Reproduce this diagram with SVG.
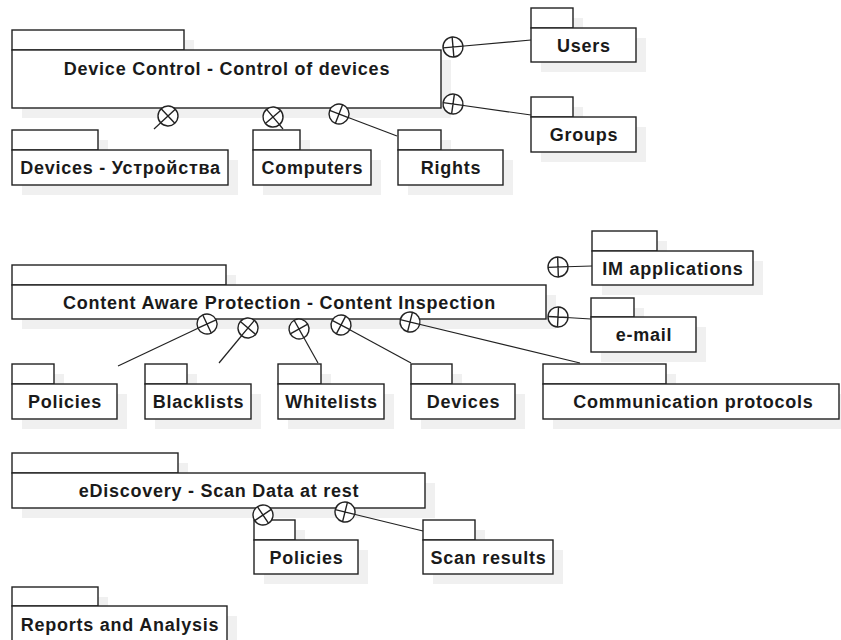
<svg xmlns="http://www.w3.org/2000/svg" xmlns:xlink="http://www.w3.org/1999/xlink" width="841" height="640" viewBox="0 0 841 640">
  <style>
    .shadow { fill: #f0f0f0; stroke: none; }
    .pkg { fill: #ffffff; stroke: #222222; stroke-width: 1.4; }
    .lbl { font-family: "Liberation Sans", Arial, sans-serif; font-weight: bold; font-size: 18px; letter-spacing: 0.75px; fill: #1a1a1a; text-anchor: middle; }
    .conn { stroke: #222222; stroke-width: 1.2; fill: none; }
    .cp circle { fill: #ffffff; stroke: #222222; stroke-width: 1.4; }
    .cp path { stroke: #222222; stroke-width: 1.4; fill: none; }
  </style>
  <defs>
    <!-- circle-plus containment marker, cross aligned with the connector direction -->
    <g id="circlePlus" class="cp">
      <circle cx="0" cy="0" r="10"/>
      <path d="M-10 0H10M0 -10V10"/>
    </g>
  </defs>

  <rect width="841" height="640" fill="#ffffff"/>

  <!-- Device Control -->
  <g id="device-control">
    <path class="shadow" d="M22 40H194V60H451V118H22Z"/>
    <rect class="pkg" x="12" y="30" width="172" height="20"/>
    <rect class="pkg" x="12" y="50" width="429" height="58"/>
    <text class="lbl" x="227" y="74.5">Device Control - Control of devices</text>
  </g>
  <g id="users">
    <path class="shadow" d="M541 18H583V38H646V72H541Z"/>
    <rect class="pkg" x="531" y="8" width="42" height="20"/>
    <rect class="pkg" x="531" y="28" width="105" height="34"/>
    <text class="lbl" x="584" y="52">Users</text>
  </g>
  <g id="groups">
    <path class="shadow" d="M541 107H583V127H646V162H541Z"/>
    <rect class="pkg" x="531" y="97" width="42" height="20"/>
    <rect class="pkg" x="531" y="117" width="105" height="35"/>
    <text class="lbl" x="584" y="141">Groups</text>
  </g>
  <g id="devices">
    <path class="shadow" d="M22 140H108V160H238V195H22Z"/>
    <rect class="pkg" x="12" y="130" width="86" height="20"/>
    <rect class="pkg" x="12" y="150" width="216" height="35"/>
    <text class="lbl" x="120.5" y="174">Devices - Устройства</text>
  </g>
  <g id="computers">
    <path class="shadow" d="M263 140H310V160H381V195H263Z"/>
    <rect class="pkg" x="253" y="130" width="47" height="20"/>
    <rect class="pkg" x="253" y="150" width="118" height="35"/>
    <text class="lbl" x="312.5" y="174">Computers</text>
  </g>
  <g id="rights">
    <path class="shadow" d="M408 140H451V160H513V195H408Z"/>
    <rect class="pkg" x="398" y="130" width="43" height="20"/>
    <rect class="pkg" x="398" y="150" width="105" height="35"/>
    <text class="lbl" x="451" y="174">Rights</text>
  </g>

  <!-- Content Aware Protection -->
  <g id="content-aware-protection">
    <path class="shadow" d="M22 275H236V295H556V329H22Z"/>
    <rect class="pkg" x="12" y="265" width="214" height="20"/>
    <rect class="pkg" x="12" y="285" width="534" height="34"/>
    <text class="lbl" x="279.5" y="309">Content Aware Protection - Content Inspection</text>
  </g>
  <g id="im-applications">
    <path class="shadow" d="M602 241H667V261H763V295H602Z"/>
    <rect class="pkg" x="592" y="231" width="65" height="20"/>
    <rect class="pkg" x="592" y="251" width="161" height="34"/>
    <text class="lbl" x="673" y="275">IM applications</text>
  </g>
  <g id="e-mail">
    <path class="shadow" d="M601 308H644V327H706V362H601Z"/>
    <rect class="pkg" x="591" y="298" width="43" height="19"/>
    <rect class="pkg" x="591" y="317" width="105" height="35"/>
    <text class="lbl" x="644" y="341">e-mail</text>
  </g>
  <g id="cap-policies">
    <path class="shadow" d="M22 374H64V394H127V429H22Z"/>
    <rect class="pkg" x="12" y="364" width="42" height="20"/>
    <rect class="pkg" x="12" y="384" width="105" height="35"/>
    <text class="lbl" x="65" y="408">Policies</text>
  </g>
  <g id="blacklists">
    <path class="shadow" d="M155 374H197V394H261V429H155Z"/>
    <rect class="pkg" x="145" y="364" width="42" height="20"/>
    <rect class="pkg" x="145" y="384" width="106" height="35"/>
    <text class="lbl" x="198.5" y="408">Blacklists</text>
  </g>
  <g id="whitelists">
    <path class="shadow" d="M288 374H331V394H394V429H288Z"/>
    <rect class="pkg" x="278" y="364" width="43" height="20"/>
    <rect class="pkg" x="278" y="384" width="106" height="35"/>
    <text class="lbl" x="331.5" y="408">Whitelists</text>
  </g>
  <g id="cap-devices">
    <path class="shadow" d="M421 374H462V394H525V429H421Z"/>
    <rect class="pkg" x="411" y="364" width="41" height="20"/>
    <rect class="pkg" x="411" y="384" width="104" height="35"/>
    <text class="lbl" x="463.5" y="408">Devices</text>
  </g>
  <g id="communication-protocols">
    <path class="shadow" d="M553 374H676V394H841V429H553Z"/>
    <rect class="pkg" x="543" y="364" width="123" height="20"/>
    <rect class="pkg" x="543" y="384" width="296" height="35"/>
    <text class="lbl" x="693.5" y="408">Communication protocols</text>
  </g>

  <!-- eDiscovery -->
  <g id="ediscovery">
    <path class="shadow" d="M22 463H188V483H435V518H22Z"/>
    <rect class="pkg" x="12" y="453" width="166" height="20"/>
    <rect class="pkg" x="12" y="473" width="413" height="35"/>
    <text class="lbl" x="219" y="497">eDiscovery - Scan Data at rest</text>
  </g>
  <g id="ed-policies">
    <path class="shadow" d="M264 530H305V550H368V584H264Z"/>
    <rect class="pkg" x="254" y="520" width="41" height="20"/>
    <rect class="pkg" x="254" y="540" width="104" height="34"/>
    <text class="lbl" x="306.5" y="564">Policies</text>
  </g>
  <g id="scan-results">
    <path class="shadow" d="M433 530H485V550H563V584H433Z"/>
    <rect class="pkg" x="423" y="520" width="52" height="20"/>
    <rect class="pkg" x="423" y="540" width="130" height="34"/>
    <text class="lbl" x="488.5" y="564">Scan results</text>
  </g>

  <!-- Reports and Analysis -->
  <g id="reports-and-analysis">
    <path class="shadow" d="M22 597H108V616H237V651H22Z"/>
    <rect class="pkg" x="12" y="587" width="86" height="19"/>
    <rect class="pkg" x="12" y="606" width="215" height="35"/>
    <text class="lbl" x="120" y="631">Reports and Analysis</text>
  </g>

  <!-- containment connectors: line from child package, circle-plus at the owner -->
  <g id="connectors">
    <line class="conn" x1="453" y1="47" x2="531" y2="40"/>
    <line class="conn" x1="453" y1="104" x2="531" y2="115"/>
    <line class="conn" x1="168" y1="116" x2="154" y2="129"/>
    <line class="conn" x1="273" y1="117" x2="283" y2="129"/>
    <line class="conn" x1="339" y1="114" x2="397" y2="136"/>
    <line class="conn" x1="558" y1="267" x2="592" y2="266"/>
    <line class="conn" x1="558" y1="317" x2="591" y2="319"/>
    <line class="conn" x1="207" y1="324" x2="118" y2="366"/>
    <line class="conn" x1="248" y1="328" x2="219" y2="363"/>
    <line class="conn" x1="299" y1="329" x2="318" y2="363"/>
    <line class="conn" x1="341" y1="325" x2="411" y2="363"/>
    <line class="conn" x1="410" y1="322" x2="580" y2="363"/>
    <line class="conn" x1="263" y1="515" x2="254" y2="521"/>
    <line class="conn" x1="345" y1="512" x2="423" y2="531"/>

    <use xlink:href="#circlePlus" transform="translate(453 47) rotate(-5)"/>
    <use xlink:href="#circlePlus" transform="translate(453 104) rotate(8)"/>
    <use xlink:href="#circlePlus" transform="translate(168 116) rotate(137)"/>
    <use xlink:href="#circlePlus" transform="translate(273 117) rotate(50)"/>
    <use xlink:href="#circlePlus" transform="translate(339 114) rotate(21)"/>
    <use xlink:href="#circlePlus" transform="translate(558 267) rotate(-2)"/>
    <use xlink:href="#circlePlus" transform="translate(558 317) rotate(3)"/>
    <use xlink:href="#circlePlus" transform="translate(207 324) rotate(155)"/>
    <use xlink:href="#circlePlus" transform="translate(248 328) rotate(130)"/>
    <use xlink:href="#circlePlus" transform="translate(299 329) rotate(61)"/>
    <use xlink:href="#circlePlus" transform="translate(341 325) rotate(28)"/>
    <use xlink:href="#circlePlus" transform="translate(410 322) rotate(14)"/>
    <use xlink:href="#circlePlus" transform="translate(263 515) rotate(146)"/>
    <use xlink:href="#circlePlus" transform="translate(345 512) rotate(14)"/>
  </g>
</svg>
